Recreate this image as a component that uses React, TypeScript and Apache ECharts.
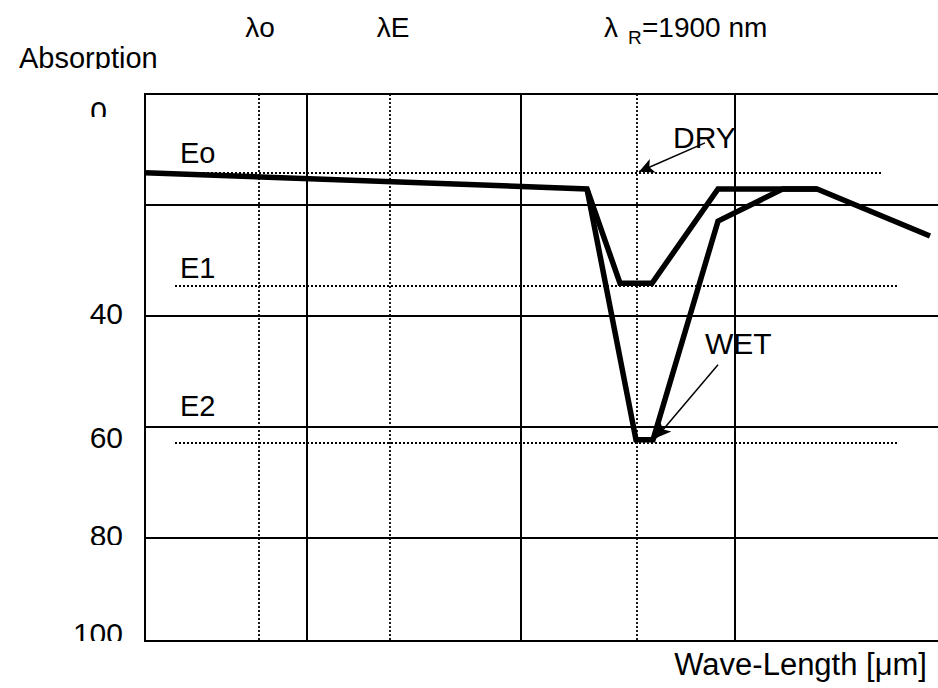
import React, { useEffect, useRef } from 'react';
import * as echarts from 'echarts';

// x: wavelength position (arbitrary units across the plot), y: absorption (0 at top)
const dryX = [0, 442, 475, 507, 573, 672, 785];
const dryY = [14.2, 17.1, 34.1, 34.1, 17.1, 17.1, 25.6];
const wetX = [442, 491, 508, 573, 638, 672];
const wetY = [17.1, 62.3, 62.3, 22.9, 17.1, 17.1];

const yTicks = [0, 20, 40, 60, 80, 100];
const yTickText = ['0', '', '40', '60', '80', '100'];
const yVisibleMax = 98.56;
const xMax = 800;

const solidLinesX = [162, 376, 590];
const dottedLinesX = [114, 245, 492];

const levelNames = ['Eo', 'E1', 'E2'];
const levelValues = [14.2, 34.6, 62.9];
const levelFrom = [30, 30, 30];
const levelTo = [737, 753, 753];

const dryArrow = [[560, 8.8], [494, 14.0]];
const wetArrow = [[573, 48.8], [511, 62.0]];

const topLabels = ['λo', 'λE'];
const rLabelMain = 'λ';
const rLabelSub = 'R';
const rLabelValue = '=1900 nm';
const xTitle = 'Wave-Length [μm]';
const yTitle = 'Absorption';
const dryName = 'DRY';
const wetName = 'WET';

export default function App() {
  const ref = useRef<HTMLDivElement>(null);
  useEffect(() => {
    const chart = echarts.init(ref.current!, null, { renderer: 'svg' });
    const font = '"Liberation Sans", Arial, sans-serif';
    const dotted = { color: '#000', width: 1.8, type: [2, 2] };
    const solid = { color: '#000', width: 2, type: 'solid' };

    const guideData: any[] = [];
    solidLinesX.forEach((x) => guideData.push({ xAxis: x, lineStyle: solid }));
    dottedLinesX.forEach((x) => guideData.push({ xAxis: x, lineStyle: dotted }));
    levelValues.forEach((v, i) =>
      guideData.push([{ coord: [levelFrom[i], v], lineStyle: dotted }, { coord: [levelTo[i], v] }])
    );

    const labelShift = [
      [34, 16, 0, 0],
      [0, 0, 0, 0],
      [0, 0, 4, 0],
      [22, 0, 0, 0],
      [0, 0, 4, 0],
      [0, 0, 16, 0],
    ];
    const rich: any = {};
    labelShift.forEach((p, i) => {
      rich['t' + i] = { padding: p, fontSize: 30, fontFamily: font, color: '#000' };
    });

    const txt = (text: string, x: number, y: number, size: number, align = 'left') => ({
      type: 'text',
      x,
      y,
      silent: true,
      z: 10,
      style: {
        text,
        fontSize: size,
        fontFamily: font,
        fill: '#000',
        align,
        verticalAlign: 'middle',
      },
    });
    // white masks reproducing the cut-off text boxes of the original figure
    const mask = (x: number, y: number, w: number, h: number) => ({
      type: 'rect',
      silent: true,
      z: 20,
      shape: { x, y, width: w, height: h },
      style: { fill: '#fff' },
    });

    chart.setOption({
      animation: false,
      backgroundColor: '#fff',
      grid: {
        left: 145,
        top: 94,
        width: 800,
        height: 547,
        outerBoundsMode: 'none',
        containLabel: false,
        show: true,
        borderColor: '#000',
        borderWidth: 2,
        backgroundColor: 'transparent',
      },
      xAxis: {
        type: 'value',
        min: 0,
        max: xMax,
        axisLine: { show: false },
        axisTick: { show: false },
        axisLabel: { show: false },
        splitLine: { show: false },
      },
      yAxis: {
        type: 'value',
        inverse: true,
        min: 0,
        max: yVisibleMax,
        interval: 20,
        axisLine: { show: false },
        axisTick: { show: false },
        splitLine: { show: true, lineStyle: { color: '#000', width: 2 } },
        axisLabel: {
          margin: 22,
          fontSize: 30,
          fontFamily: font,
          color: '#000',
          formatter: (v: number) => {
            const i = yTicks.findIndex((t) => Math.abs(t - v) < 2);
            if (i < 0 || !yTickText[i]) return '';
            return '{t' + i + '|' + yTickText[i] + '}';
          },
          rich,
        },
      },
      series: [
        {
          name: 'guides',
          type: 'line',
          data: [],
          z: 1,
          markLine: {
            silent: true,
            symbol: ['none', 'none'],
            label: { show: false },
            z: 1,
            data: guideData,
          },
        },
        {
          name: dryName,
          type: 'line',
          z: 3,
          symbol: 'none',
          lineStyle: { color: '#000', width: 5.5, join: 'miter' },
          data: dryX.map((x, i) => [x, dryY[i]]),
        },
        {
          name: wetName,
          type: 'line',
          z: 3,
          symbol: 'none',
          lineStyle: { color: '#000', width: 5.5, join: 'miter' },
          data: wetX.map((x, i) => [x, wetY[i]]),
        },
        {
          name: 'arrows',
          type: 'line',
          data: [],
          z: 4,
          markLine: {
            silent: true,
            symbol: ['none', 'arrow'],
            symbolSize: [11, 15],
            label: { show: false },
            lineStyle: { color: '#000', width: 1.5, type: 'solid' },
            data: [
              [{ coord: dryArrow[0] }, { coord: dryArrow[1] }],
              [{ coord: wetArrow[0] }, { coord: wetArrow[1] }],
            ],
          },
        },
      ],
      graphic: [
        txt(topLabels[0], 260, 27, 28, 'center'),
        txt(topLabels[1], 393, 27, 28, 'center'),
        txt(rLabelMain, 604, 27, 28),
        txt(rLabelSub, 628, 37, 19),
        txt(rLabelValue, 642, 27, 28),
        txt(yTitle, 19, 58, 29),
        txt(xTitle, 927, 664, 31, 'right'),
        txt(levelNames[0], 180, 153, 29),
        txt(levelNames[1], 180, 268, 29),
        txt(levelNames[2], 180, 406, 29),
        txt(dryName, 673, 137, 30),
        txt(wetName, 705, 343, 30),
        mask(10, 69, 170, 12),
        mask(80, 117, 40, 12),
        mask(60, 545, 70, 8),
        mask(60, 641, 82, 12),
      ],
    });
    return () => chart.dispose();
  }, []);
  return (
    <div
      ref={ref}
      style={{ position: 'fixed', left: 0, top: 0, width: 938, height: 688, background: '#fff' }}
    />
  );
}
